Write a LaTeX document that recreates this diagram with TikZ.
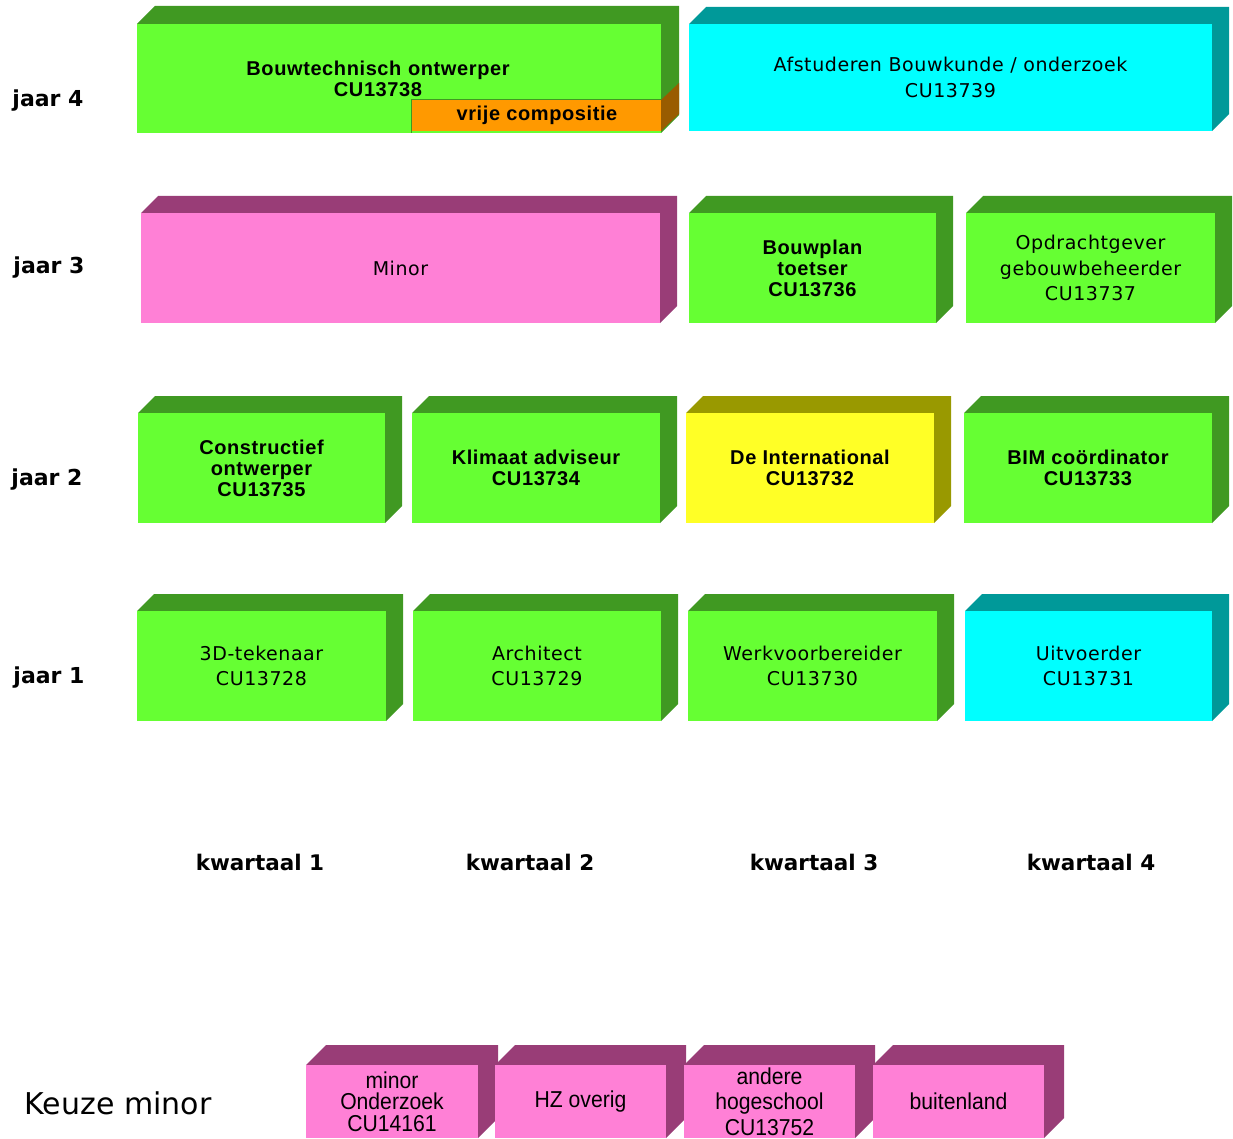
\documentclass[tikz,border=0pt]{standalone}
\usepackage{fontspec}
\setmainfont{DejaVu Sans}
\newfontfamily\ruimfont[LetterSpace=3]{DejaVu Sans}
\newfontfamily\arial[LetterSpace=3]{Liberation Sans}
\newfontfamily\smalfont[FakeStretch=0.92]{Liberation Sans}

\definecolor{groen}{RGB}{102,255,51}
\definecolor{groendonker}{RGB}{64,153,34}
\definecolor{cyaan}{RGB}{0,255,255}
\definecolor{cyaandonker}{RGB}{0,153,153}
\definecolor{roze}{RGB}{255,128,214}
\definecolor{rozedonker}{RGB}{153,61,119}
\definecolor{geel}{RGB}{255,255,38}
\definecolor{geeldonker}{RGB}{153,153,0}
\definecolor{oranje}{RGB}{255,153,0}
\definecolor{oranjedonker}{RGB}{153,92,0}

% #1 kleur, #2..#5 voorvlak, #6 naam, #7 tekststijl, #8 tekst, #9 diepte
\newcommand{\blok}[9]{%
  \fill[#1donker] (#2,#3) -- ++(#9,-#9) -- (#4+#9,#3-#9) -- (#4+#9,#5-#9) -- (#4,#5) -- (#4,#3) -- cycle;
  \fill[#1] (#2,#3) rectangle (#4,#5);
  \node[#7] (#6) at ({(#2+#4)/2},{(#3+#5)/2}) {#8};
}

\tikzset{
  gewoon/.style={align=center, font=\ruimfont\fontsize{19}{25.5}\selectfont},
  vet/.style={align=center, font=\arial\bfseries\fontsize{20}{21}\selectfont},
  smal/.style={align=center, font=\smalfont\fontsize{23}{21.5}\selectfont},
  smalruim/.style={align=center, font=\smalfont\fontsize{23}{25.5}\selectfont},
  kop/.style={font=\bfseries\fontsize{22}{26}\selectfont},
  kwart/.style={font=\bfseries\fontsize{21.5}{26}\selectfont},
}

\begin{document}
\lineskiplimit=-100pt
\begin{tikzpicture}[x=1pt,y=-1pt]
  \useasboundingbox (0,0) rectangle (1233,1139);

  \node[kop] (jaar4) at (48,101) {jaar 4};
  \node[kop] (jaar3) at (49,268) {jaar 3};
  \node[kop] (jaar2) at (47,480) {jaar 2};
  \node[kop] (jaar1) at (49,678) {jaar 1};

  \blok{groen}{137}{24}{661}{133}{bouwtech}{vet,xshift=-21pt}{Bouwtechnisch\,\,ontwerper\\CU13738}{18}
  \fill[oranjedonker] (661,100) -- (679,83) -- (679,114) -- (661,131) -- cycle;
  \fill[oranje] (411,100) rectangle (661,131);
  \draw[groendonker, line width=1.2pt] (411.5,133) -- (411.5,99.5) -- (661,99.5);
  \node[vet] (vrij) at (537,115) {vrije compositie};
  \blok{cyaan}{689}{24}{1212}{131}{afstuderen}{gewoon}{Afstuderen Bouwkunde / onderzoek\\CU13739}{17}

  \blok{roze}{141}{213}{660}{323}{minor}{gewoon}{Minor}{17}
  \blok{groen}{689}{213}{936}{323}{toetser}{vet}{Bouwplan\\toetser\\CU13736}{17}
  \blok{groen}{966}{213}{1215}{323}{opdracht}{gewoon}{Opdrachtgever\\gebouwbeheerder\\CU13737}{17}

  \blok{groen}{138}{413}{385}{523}{constr}{vet}{Constructief\\ontwerper\\CU13735}{17}
  \blok{groen}{412}{413}{660}{523}{klimaat}{vet}{Klimaat adviseur\\CU13734}{17}
  \blok{geel}{686}{413}{934}{523}{internat}{vet}{De International\\CU13732}{17}
  \blok{groen}{964}{413}{1212}{523}{bim}{vet}{BIM coördinator\\CU13733}{17}

  \blok{groen}{137}{611}{386}{721}{tekenaar}{gewoon}{3D-tekenaar\\CU13728}{17}
  \blok{groen}{413}{611}{661}{721}{architect}{gewoon}{Architect\\CU13729}{17}
  \blok{groen}{688}{611}{937}{721}{werkvoorb}{gewoon}{Werkvoorbereider\\CU13730}{17}
  \blok{cyaan}{965}{611}{1212}{721}{uitvoerder}{gewoon}{Uitvoerder\\CU13731}{17}

  \node[kwart] (kw1) at (260,862) {kwartaal 1};
  \node[kwart] (kw2) at (530,862) {kwartaal 2};
  \node[kwart] (kw3) at (814,862) {kwartaal 3};
  \node[kwart] (kw4) at (1091,862) {kwartaal 4};

  \node[font=\fontsize{30}{36}\selectfont] (keuze) at (118,1103) {Keuze minor};
  \blok{roze}{306}{1065}{478}{1138}{onderzoek}{smal}{minor\\Onderzoek\\CU14161}{20}
  \blok{roze}{495}{1065}{666}{1138}{hzoverig}{smal}{HZ overig}{20}
  \blok{roze}{684}{1065}{855}{1138}{hogeschool}{smalruim}{andere\\hogeschool\\CU13752}{20}
  \blok{roze}{873}{1065}{1044}{1138}{buitenland}{smal}{buitenland}{20}
\end{tikzpicture}
\end{document}
